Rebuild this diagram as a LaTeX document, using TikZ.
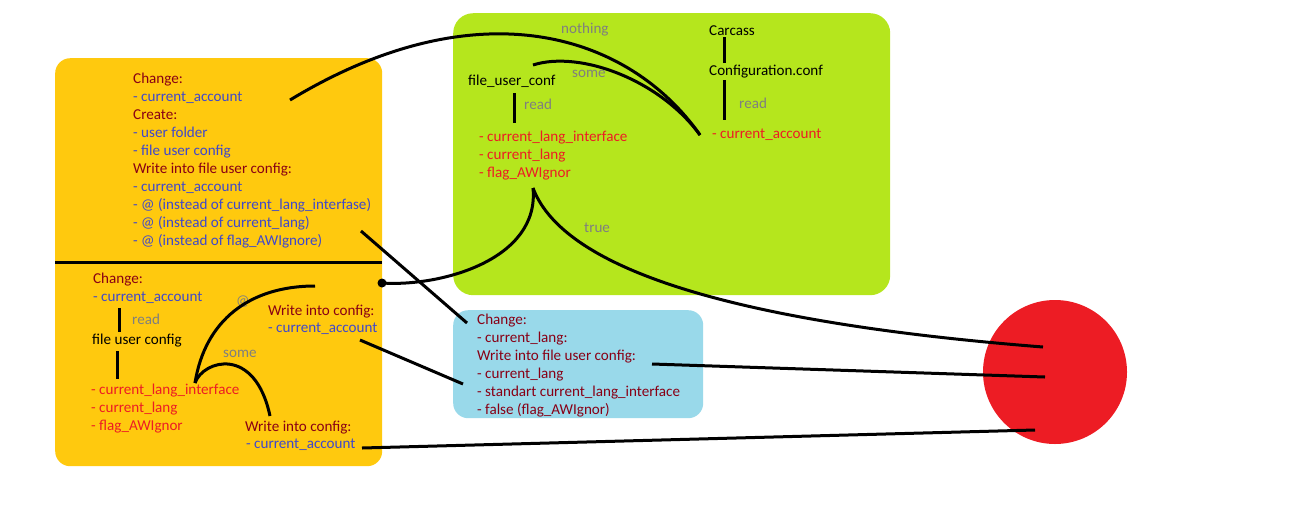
\documentclass[tikz,border=0pt]{standalone}
\usepackage{fontspec}
\setmainfont{Carlito}
\definecolor{orangebox}{HTML}{FFC90E}
\definecolor{greenbox}{HTML}{B5E61D}
\definecolor{bluebox}{HTML}{99D9EA}
\definecolor{redfill}{HTML}{ED1C24}
\definecolor{dred}{HTML}{880015}
\definecolor{bluetxt}{HTML}{3F48CC}
\definecolor{graytxt}{HTML}{7F7F7F}
\definecolor{redtxt}{HTML}{ED1C24}
\begin{document}
\begin{tikzpicture}[x=1pt,y=-1pt,
  txt/.style={anchor=base west, inner sep=0pt, font=\fontsize{15.1}{18}\selectfont},
  hd/.style={txt, text=dred},
  it/.style={txt, text=bluetxt},
  rd/.style={txt, text=redtxt},
  gr/.style={txt, text=graytxt},
  bk/.style={txt, text=black},
  conn/.style={line width=3pt, black},
  bar/.style={line width=3pt, black}]
\useasboundingbox (0,0) rectangle (1295,531);
% boxes
\node[fill=orangebox, rounded corners=15pt, minimum width=327pt, minimum height=408pt, inner sep=0, anchor=north west] (orange) at (55,58) {};
\node[fill=greenbox, rounded corners=20pt, minimum width=437pt, minimum height=282pt, inner sep=0, anchor=north west] (green) at (453,13) {};
\node[fill=bluebox, rounded corners=15pt, minimum width=250pt, minimum height=108pt, inner sep=0, anchor=north west] (blue) at (453,310) {};
\node[fill=redfill, circle, minimum size=144pt, inner sep=0] (redc) at (1055,372) {};
\coordinate (divl) at (55,262);
\coordinate (divr) at (382,262);
\draw[bar] (divl) -- (divr);
% orange top texts
\node[hd] (t1) at (133,83) {Change:};
\node[it] (t2) at (133,101) {- current\_account};
\node[hd] (t3) at (133,119) {Create:};
\node[it] (t4) at (133,137) {- user folder};
\node[it] (t5) at (133,155) {- file user config};
\node[hd] (t6) at (133,173) {Write into file user config:};
\node[it] (t7) at (133,191) {- current\_account};
\node[it] (t8) at (133,209) {- @ (instead of current\_lang\_interfase)};
\node[it] (t9) at (133,227) {- @ (instead of current\_lang)};
\node[it] (t10) at (133,245) {- @ (instead of flag\_AWIgnore)};
% orange bottom texts
\node[hd] (b1) at (93,283) {Change:};
\node[it] (b2) at (93,301) {- current\_account};
\node[gr] (b3) at (132,324) {read};
\node[bk] (b4) at (92,344) {file user config};
\node[rd] (b5) at (91,394) {- current\_lang\_interface};
\node[rd] (b6) at (91,412) {- current\_lang};
\node[rd] (b7) at (91,430) {- flag\_AWIgnor};
\node[gr] (b8) at (236,305) {@};
\node[hd] (b9) at (268,315) {Write into config:};
\node[it] (b10) at (268,332) {- current\_account};
\node[gr] (b11) at (223,357) {some};
\node[hd] (b12) at (245,431) {Write into config:};
\node[it] (b13) at (246,448) {- current\_account};
\coordinate (bv1a) at (119,308); \coordinate (bv1b) at (119,332);
\coordinate (bv2a) at (117,351); \coordinate (bv2b) at (117,379);
\draw[bar] (bv1a) -- (bv1b);
\draw[bar] (bv2a) -- (bv2b);
% green texts
\node[gr] (g1) at (561,33) {nothing};
\node[bk] (g2) at (709,35) {Carcass};
\node[bk] (g3) at (709,75) {Configuration.conf};
\node[gr] (g4) at (739,108) {read};
\node[rd] (g5) at (712,138) {- current\_account};
\node[bk] (g6) at (468,85) {file\_user\_conf};
\node[gr] (g7) at (572,77) {some};
\node[gr] (g8) at (524,109) {read};
\node[rd] (g9) at (479,141) {- current\_lang\_interface};
\node[rd] (g10) at (479,159) {- current\_lang};
\node[rd] (g11) at (479,177) {- flag\_AWIgnor};
\node[gr] (g12) at (584,232) {true};
\coordinate (gv1a) at (724,37); \coordinate (gv1b) at (724,63);
\coordinate (gv2a) at (724,80); \coordinate (gv2b) at (724,120);
\coordinate (gv3a) at (514,93); \coordinate (gv3b) at (514,123);
\draw[bar] (gv1a) -- (gv1b);
\draw[bar] (gv2a) -- (gv2b);
\draw[bar] (gv3a) -- (gv3b);
% blue texts
\node[hd] (l1) at (477,324) {Change:};
\node[hd] (l2) at (477,342) {- current\_lang:};
\node[hd] (l3) at (477,360) {Write into file user config:};
\node[hd] (l4) at (477,378) {- current\_lang};
\node[hd] (l5) at (477,396) {- standart current\_lang\_interface};
\node[hd] (l6) at (477,414) {- false (flag\_AWIgnor)};
% connector end points
\coordinate (nA) at (290,100);
\coordinate (nB) at (700,135);
\coordinate (sA) at (533,65);
\coordinate (dot) at (382,283);
\coordinate (cusp) at (533,188);
\coordinate (rA) at (1043,347);
\coordinate (aA) at (195,383);
\coordinate (aB) at (315,286);
\coordinate (sB) at (270,416);
\coordinate (x1a) at (361,231); \coordinate (x1b) at (467,323);
\coordinate (x2a) at (360,340); \coordinate (x2b) at (463,384);
\coordinate (x3a) at (652,364); \coordinate (x3b) at (1045,377);
\coordinate (x4a) at (362,448); \coordinate (x4b) at (1035,430);
% connectors
\draw[conn] (nA) .. controls (480,-15) and (630,35) .. (nB);
\draw[conn] (sA) .. controls (580,50) and (660,80) .. (nB);
\fill (dot) circle[radius=4.5pt];
\draw[conn] (dot) .. controls (440,287) and (540,260) .. (cusp);
\draw[conn] (cusp) .. controls (560,260) and (700,320) .. (rA);
\draw[conn] (aA) .. controls (205,320) and (250,286) .. (aB);
\draw[conn] (aA) .. controls (203,360) and (255,345) .. (sB);
\draw[conn] (x1a) -- (x1b);
\draw[conn] (x2a) -- (x2b);
\draw[conn] (x3a) -- (x3b);
\draw[conn] (x4a) -- (x4b);
\end{tikzpicture}
\end{document}
